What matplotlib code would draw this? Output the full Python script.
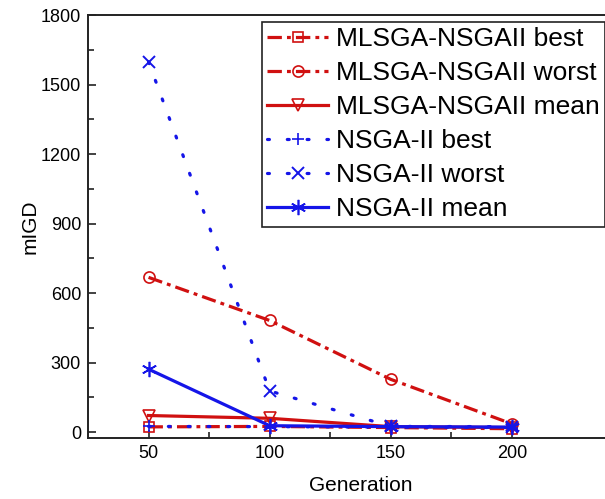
import numpy as np
import matplotlib
matplotlib.use("Agg")
import matplotlib.pyplot as plt

plt.rcParams['font.family'] = ['Liberation Sans', 'DejaVu Sans']

# data
generation = [50, 100, 150, 200]
mlsga_best = [23, 25, 20, 15]
mlsga_worst = [668, 482, 228, 36]
mlsga_mean = [72, 60, 24, 20]
nsga_best = [25, 24, 22, 20]
nsga_worst = [1598, 178, 25, 24]
nsga_mean = [272, 28, 24, 22]

red = '#d01010'
blue = '#1515e8'

fig = plt.figure(figsize=(6.05, 4.99), dpi=100)
# right spine sits outside the image, as in the original crop
ax = fig.add_axes([88 / 605, 61 / 499, 545 / 605, 423 / 499])

dashdot = (0, (4.5, 1.6, 1.2, 1.6))
dotted = (0, (0.6, 5.6))

ax.plot(generation, mlsga_best, color=red, lw=2.3, ls=dashdot, marker='s', ms=7,
        mfc='none', mec=red, mew=1.2, label='MLSGA-NSGAII best')
ax.plot(generation, mlsga_worst, color=red, lw=2.3, ls=dashdot, marker='o', ms=8,
        mfc='none', mec=red, mew=1.2, label='MLSGA-NSGAII worst')
ax.plot(generation, mlsga_mean, color=red, lw=2.3, ls='-', marker='v', ms=9,
        mfc='none', mec=red, mew=1.2, label='MLSGA-NSGAII mean')
ax.plot(generation, nsga_best, color=blue, lw=2.3, ls=dotted, marker='+', ms=9,
        mew=1.2, dash_capstyle='round', label='NSGA-II best')
ax.plot(generation, nsga_worst, color=blue, lw=2.3, ls=dotted, marker='x', ms=9,
        mew=1.4, dash_capstyle='round', label='NSGA-II worst')
ax.plot(generation, nsga_mean, color=blue, lw=2.3, ls='-', marker=(6, 2, 0), ms=11,
        mew=1.2, label='NSGA-II mean')

ax.set_xlim(25, 250)
ax.set_ylim(-25, 1800)
ax.set_xticks(generation)
ax.set_xticks([75, 125, 175], minor=True)
ax.set_yticks(np.arange(0, 1801, 300))
ax.set_yticks(np.arange(150, 1800, 300), minor=True)
ax.tick_params(which='both', direction='in', labelsize=13, width=1.2, color='#222222')
ax.tick_params(which='major', length=6, pad=5)
ax.tick_params(which='minor', length=4)
for s in ax.spines.values():
    s.set_linewidth(1.4)
    s.set_color('#222222')

ax.set_xlabel('Generation', fontsize=15, labelpad=10)
ax.set_ylabel('mIGD', fontsize=15, labelpad=1)

leg = ax.legend(loc='upper left', bbox_to_anchor=(262 / 605, 1 - 22 / 499),
                bbox_transform=fig.transFigure, fontsize=19, frameon=True,
                fancybox=False, edgecolor='#222222', framealpha=1,
                handlelength=2.3, handletextpad=0.3, labelspacing=0.38,
                borderpad=0.2, borderaxespad=0)
leg.get_frame().set_linewidth(1.2)

fig.savefig('out.png', dpi=100)
